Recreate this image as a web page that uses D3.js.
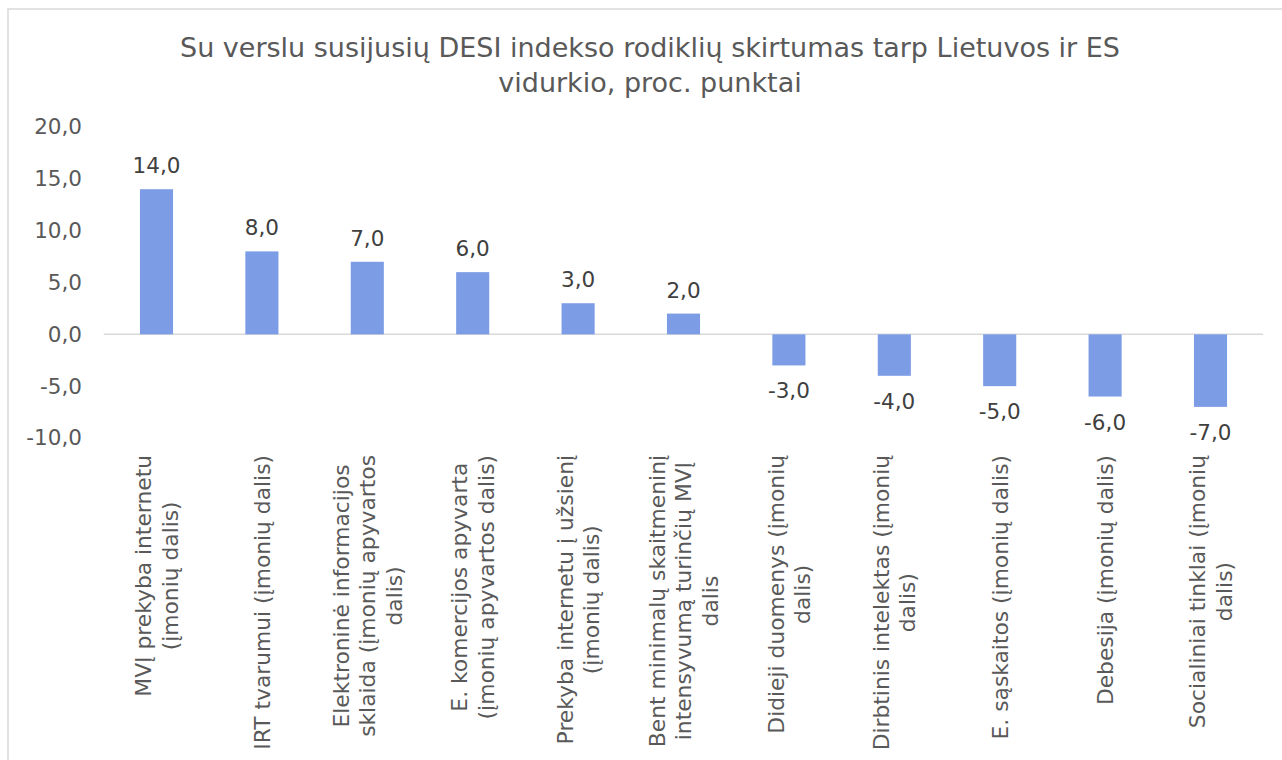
<!DOCTYPE html>
<html><head><meta charset="utf-8">
<script src="https://cdn.jsdelivr.net/npm/d3@7"></script>
<style>
body{margin:0;background:#fff;}
svg{display:block;font-family:"DejaVu Sans",Verdana,sans-serif;}
</style>
</head><body>
<svg id="c" width="1282" height="760"></svg>
<script>
const titleLines = ["Su verslu susijusių DESI indekso rodiklių skirtumas tarp Lietuvos ir ES", "vidurkio, proc. punktai"];
const categories = [
  "MVĮ prekyba internetu (įmonių dalis)",
  "IRT tvarumui (įmonių dalis)",
  "Elektroninė informacijos sklaida (įmonių apyvartos dalis)",
  "E. komercijos apyvarta (įmonių apyvartos dalis)",
  "Prekyba internetu į užsienį (įmonių dalis)",
  "Bent minimalų skaitmeninį intensyvumą turinčių MVĮ dalis",
  "Didieji duomenys (įmonių dalis)",
  "Dirbtinis intelektas (įmonių dalis)",
  "E. sąskaitos (įmonių dalis)",
  "Debesija (įmonių dalis)",
  "Socialiniai tinklai (įmonių dalis)"
];
const categoryLines = [
  ["MVĮ prekyba internetu", "(įmonių dalis)"],
  ["IRT tvarumui (įmonių dalis)"],
  ["Elektroninė informacijos", "sklaida (įmonių apyvartos", "dalis)"],
  ["E. komercijos apyvarta", "(įmonių apyvartos dalis)"],
  ["Prekyba internetu į užsienį", "(įmonių dalis)"],
  ["Bent minimalų skaitmeninį", "intensyvumą turinčių MVĮ", "dalis"],
  ["Didieji duomenys (įmonių", "dalis)"],
  ["Dirbtinis intelektas (įmonių", "dalis)"],
  ["E. sąskaitos (įmonių dalis)"],
  ["Debesija (įmonių dalis)"],
  ["Socialiniai tinklai (įmonių", "dalis)"]
];
const values = [14.0, 8.0, 7.0, 6.0, 3.0, 2.0, -3.0, -4.0, -5.0, -6.0, -7.0];
const yTicks = [-10, -5, 0, 5, 10, 15, 20];

const fmt = d3.formatLocale({decimal: ",", thousands: " ", grouping: [3], currency: ["", "€"], minus: "-"}).format(".1f");

const svg = d3.select("#c");
const textColor = "#595959";
const labelColor = "#404040";
const barColor = "#7c9de6";

// chart frame
svg.append("rect").attr("x", 8).attr("y", 9).attr("width", 1300).attr("height", 800)
  .attr("fill", "#fff").attr("stroke", "#d9d9d9").attr("stroke-width", 1.5);

// title
svg.append("g").selectAll("text").data(titleLines).join("text")
  .attr("x", 650).attr("y", (d, i) => 57 + i * 35)
  .attr("text-anchor", "middle").attr("fill", textColor)
  .style("font-size", "27px").text(d => d);

const x = d3.scaleBand().domain(categories).range([103.8, 1263.2]).paddingInner(0.686).paddingOuter(0.343);
const y = d3.scaleLinear().domain([-10, 20]).range([438, 127]);

// y axis
const yAxis = svg.append("g").attr("transform", "translate(90,0)")
  .call(d3.axisLeft(y).tickValues(yTicks).tickSize(0).tickPadding(8).tickFormat(fmt));
yAxis.select(".domain").remove();
yAxis.selectAll("text").attr("fill", textColor).style("font-size", "21.5px")
  .style("font-family", '"DejaVu Sans",Verdana,sans-serif');

// zero line
svg.append("line").attr("x1", x.range()[0]).attr("x2", x.range()[1])
  .attr("y1", y(0)).attr("y2", y(0)).attr("stroke", "#d9d9d9").attr("stroke-width", 1.5);

// bars
svg.append("g").selectAll("rect").data(values).join("rect")
  .attr("x", (d, i) => x(categories[i]))
  .attr("y", d => Math.min(y(d), y(0)))
  .attr("width", x.bandwidth())
  .attr("height", d => Math.abs(y(d) - y(0)))
  .attr("fill", barColor);

// data labels
svg.append("g").selectAll("text").data(values).join("text")
  .attr("x", (d, i) => x(categories[i]) + x.bandwidth() / 2)
  .attr("y", d => d >= 0 ? y(d) - 16 : y(d) + 33)
  .attr("text-anchor", "middle").attr("fill", labelColor)
  .style("font-size", "21.5px").text(d => fmt(d));

// category labels (rotated, wrapped)
const lh = 26.5, fs = 21.8;
const catG = svg.append("g");
categoryLines.forEach((lines, i) => {
  const cx = x(categories[i]) + x.bandwidth() / 2;
  const g = catG.append("g").attr("transform", `translate(${cx},455) rotate(-90)`);
  const texts = g.selectAll("text").data(lines).join("text")
    .attr("text-anchor", "middle").attr("fill", textColor)
    .style("font-size", fs + "px")
    .attr("y", (d, j) => (j - (lines.length - 1) / 2) * lh + fs * 0.36)
    .text(d => d);
  let W = 0;
  texts.each(function() { W = Math.max(W, this.getComputedTextLength()); });
  texts.attr("x", -W / 2);
});
</script>
</body></html>
